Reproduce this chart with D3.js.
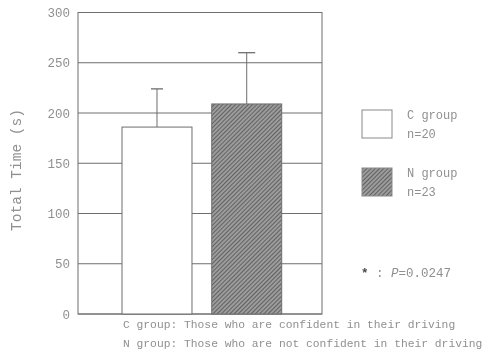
<!DOCTYPE html>
<html>
<head>
<meta charset="utf-8">
<script src="https://cdn.jsdelivr.net/npm/d3@7"></script>
<style>
  html, body { margin: 0; padding: 0; background: #fff; }
  svg { display: block; }
  text { font-family: "Liberation Mono", "DejaVu Sans Mono", monospace; fill: #909090; }
</style>
</head>
<body>
<svg id="chart" width="494" height="361"></svg>
<script>
// Mean total time per group and upper end of the error bar (mean + SD)
const groups = ["C", "N"];
const means = [186, 209];
const errorTops = [224, 260];
const yTicks = [0, 50, 100, 150, 200, 250, 300];
const legendNames = ["C group", "N group"];
const legendCounts = ["n=20", "n=23"];
const footnotes = [
  "C group: Those who are confident in their driving",
  "N group: Those who are not confident in their driving"
];

const svg = d3.select("#chart");
const defs = svg.append("defs");

// soft print look
defs.append("filter").attr("id", "soft")
  .append("feGaussianBlur").attr("stdDeviation", 0.35);

// diagonal hatch for the N group
const pat = defs.append("pattern")
  .attr("id", "hatch")
  .attr("patternUnits", "userSpaceOnUse")
  .attr("width", 3).attr("height", 3)
  .attr("patternTransform", "rotate(45)");
pat.append("rect").attr("width", 3).attr("height", 3).attr("fill", "#9c9c9c");
pat.append("line").attr("x1", 0).attr("y1", 0).attr("x2", 0).attr("y2", 3)
  .attr("stroke", "#474747").attr("stroke-width", 1.4);

const g = svg.append("g").attr("filter", "url(#soft)");

const left = 78, right = 322;
const y = d3.scaleLinear().domain([0, 300]).range([314, 12.5]);
const x = d3.scaleBand().domain(groups).range([122, 281.7])
  .paddingInner(0.22).paddingOuter(0);

const lineColor = "#6e6e6e";

// horizontal grid lines across the plot box
g.append("g").selectAll("line").data(yTicks).join("line")
  .attr("x1", left).attr("x2", right)
  .attr("y1", d => y(d)).attr("y2", d => y(d))
  .attr("stroke", lineColor).attr("stroke-width", 1);

// y tick labels via the axis generator (no tick marks, no domain path)
const yAxis = d3.axisLeft(y).tickValues(yTicks).tickSize(0).tickPadding(8);
const ax = g.append("g").attr("transform", `translate(${left},0)`).call(yAxis);
ax.select(".domain").remove();
ax.selectAll("text")
  .style("font-family", '"Liberation Mono", "DejaVu Sans Mono", monospace')
  .style("font-size", "12.5px").attr("fill", "#909090");

// plot frame
g.append("rect")
  .attr("x", left).attr("y", y(300))
  .attr("width", right - left).attr("height", y(0) - y(300))
  .attr("fill", "none").attr("stroke", lineColor).attr("stroke-width", 1);

// error bars (upper only), drawn before bars so the stem starts at bar top
const capW = [12, 17];
g.append("g").selectAll("g").data(groups).join("g").each(function (d, i) {
  const cx = x(d) + x.bandwidth() / 2;
  const s = d3.select(this);
  s.append("line").attr("x1", cx).attr("x2", cx)
    .attr("y1", y(means[i])).attr("y2", y(errorTops[i]))
    .attr("stroke", lineColor).attr("stroke-width", 1);
  s.append("line").attr("x1", cx - capW[i] / 2).attr("x2", cx + capW[i] / 2)
    .attr("y1", y(errorTops[i])).attr("y2", y(errorTops[i]))
    .attr("stroke", lineColor).attr("stroke-width", 1.3);
});

// bars
g.append("g").selectAll("rect").data(groups).join("rect")
  .attr("x", d => x(d))
  .attr("y", (d, i) => y(means[i]))
  .attr("width", x.bandwidth())
  .attr("height", (d, i) => y(0) - y(means[i]))
  .attr("fill", (d, i) => i === 0 ? "#ffffff" : "url(#hatch)")
  .attr("stroke", lineColor).attr("stroke-width", 1);

// y axis title
g.append("text")
  .attr("transform", "translate(21,170) rotate(-90)")
  .attr("text-anchor", "middle")
  .style("font-size", "14.5px")
  .text("Total Time (s)");

// legend
const legTop = [110, 168];
legendNames.forEach((name, i) => {
  g.append("rect")
    .attr("x", 362).attr("y", legTop[i]).attr("width", 30).attr("height", 28)
    .attr("fill", i === 0 ? "#ffffff" : "url(#hatch)")
    .attr("stroke", "#8a8a8a").attr("stroke-width", 1);
  g.append("text").attr("x", 407).attr("y", legTop[i] + 9)
    .style("font-size", "12px").text(name);
  g.append("text").attr("x", 407).attr("y", legTop[i] + 28)
    .style("font-size", "12px").text(legendCounts[i]);
});

// significance note
const sig = g.append("text").attr("x", 361).attr("y", 277).style("font-size", "12.5px");
sig.append("tspan").attr("fill", "#4a4a4a").style("font-weight", "bold").text("*");
sig.append("tspan").text(" : ");
sig.append("tspan").style("font-style", "italic").text("P");
sig.append("tspan").text("=0.0247");

// footnotes
footnotes.forEach((t, i) => {
  g.append("text").attr("x", 123).attr("y", 328 + i * 19)
    .style("font-size", "11.3px").text(t);
});
</script>
</body>
</html>
